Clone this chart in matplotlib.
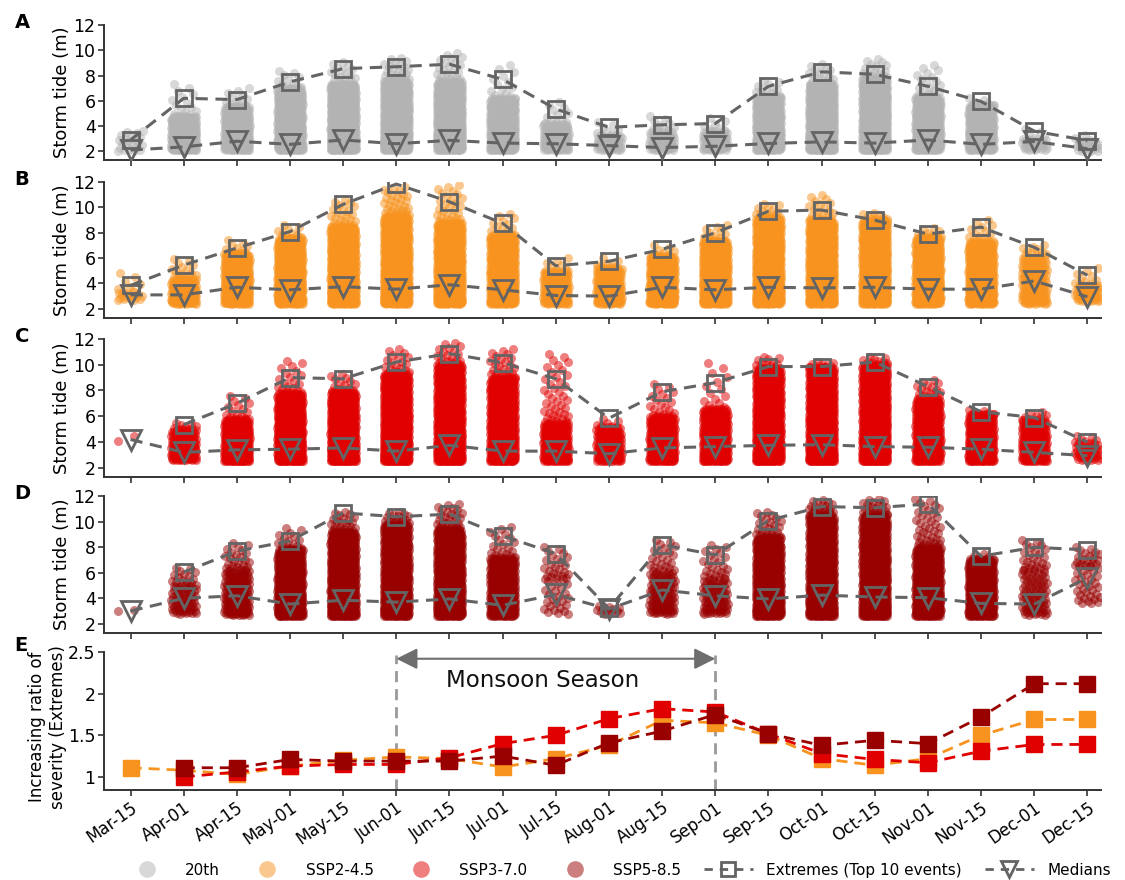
import numpy as np
import matplotlib
matplotlib.use("Agg")
import matplotlib.pyplot as plt
from matplotlib.lines import Line2D

# ---------------------------------------------------------------- data
dates = ["Mar-15", "Apr-01", "Apr-15", "May-01", "May-15", "Jun-01", "Jun-15",
         "Jul-01", "Jul-15", "Aug-01", "Aug-15", "Sep-01", "Sep-15", "Oct-01",
         "Oct-15", "Nov-01", "Nov-15", "Dec-01", "Dec-15"]

# Extremes (mean of top 10 events) and medians of storm tide (m)
ext_20th = [2.9, 6.2, 6.1, 7.5, 8.55, 8.7, 8.9, 7.7, 5.35, 3.9, 4.1, 4.2, 7.15, 8.3, 8.1, 7.15, 5.95, 3.6, 2.85]
med_20th = [2.1, 2.35, 2.8, 2.55, 2.9, 2.6, 2.87, 2.65, 2.6, 2.45, 2.3, 2.4, 2.62, 2.75, 2.65, 2.9, 2.55, 2.78, 2.2]

ext_245 = [3.85, 5.45, 6.8, 8.1, 10.25, 11.85, 10.45, 8.75, 5.4, 5.75, 6.7, 8.0, 9.7, 9.8, 9.0, 7.9, 8.45, 6.85, 4.65]
med_245 = [3.1, 3.1, 3.7, 3.5, 3.75, 3.55, 3.9, 3.5, 3.05, 3.0, 3.7, 3.5, 3.7, 3.65, 3.7, 3.55, 3.55, 4.2, 2.95]

ext_370 = [np.nan, 5.35, 7.0, 9.0, 8.9, 10.2, 10.85, 10.15, 8.9, 5.85, 7.9, 8.6, 9.85, 9.85, 10.2, 8.3, 6.35, 5.9, 4.0]
med_370 = [4.2, 3.2, 3.4, 3.45, 3.55, 3.3, 3.75, 3.3, 3.3, 3.1, 3.55, 3.65, 3.75, 3.8, 3.65, 3.6, 3.45, 3.2, 2.95]

ext_585 = [np.nan, 6.05, 7.7, 8.5, 10.7, 10.4, 10.6, 8.9, 7.5, 3.2, 8.2, 7.4, 10.1, 11.2, 11.1, 11.4, 7.3, 8.0, 7.8]
med_585 = [3.0, 4.0, 4.2, 3.55, 3.85, 3.7, 3.95, 3.45, 4.3, 3.15, 4.65, 4.2, 3.95, 4.25, 4.1, 4.05, 3.6, 3.55, 5.6]

# Event clouds per date: (dense events, lowest, top of dense block, scattered events, highest)
cloud_20th = [(22, 2.0, 3.6, 0, 3.6), (300, 2.1, 4.8, 15, 7.3), (350, 2.1, 5.6, 12, 7.0), (500, 2.1, 7.0, 12, 8.4),
              (700, 2.1, 7.3, 20, 9.1), (700, 2.1, 7.6, 25, 9.4), (700, 2.1, 7.5, 25, 9.8), (450, 2.1, 6.2, 15, 8.8),
              (150, 2.1, 4.2, 12, 5.9), (60, 2.1, 3.3, 8, 4.3), (70, 2.1, 3.6, 10, 4.8), (80, 2.1, 3.6, 8, 4.6),
              (450, 2.1, 6.3, 15, 7.6), (650, 2.1, 7.3, 20, 8.9), (650, 2.1, 7.8, 20, 9.3), (450, 2.1, 6.3, 20, 8.8),
              (350, 2.1, 5.7, 6, 6.2), (30, 2.1, 3.0, 6, 3.8), (20, 2.0, 2.8, 4, 3.3)]
cloud_245 = [(15, 2.7, 3.3, 8, 4.8), (150, 2.4, 4.4, 15, 5.9), (400, 2.4, 6.4, 10, 7.4), (550, 2.4, 7.6, 10, 8.6),
             (700, 2.4, 8.5, 25, 10.6), (750, 2.4, 9.3, 35, 11.6), (700, 2.4, 8.8, 30, 11.8), (550, 2.4, 7.8, 15, 9.5),
             (180, 2.4, 5.0, 8, 6.0), (200, 2.4, 5.3, 6, 6.0), (400, 2.4, 6.2, 8, 7.0), (550, 2.4, 7.4, 12, 8.6),
             (750, 2.4, 9.2, 15, 10.3), (750, 2.4, 9.0, 20, 11.0), (750, 2.4, 9.0, 10, 9.6), (550, 2.4, 7.7, 8, 8.4),
             (500, 2.4, 7.3, 15, 9.0), (150, 2.4, 6.0, 15, 7.0), (45, 2.6, 3.9, 10, 5.2)]
cloud_370 = [(2, 4.1, 4.5, 0, 4.5), (150, 2.6, 5.0, 8, 5.5), (350, 2.5, 5.8, 15, 7.6), (600, 2.5, 7.8, 20, 10.3),
             (600, 2.5, 7.9, 15, 9.3), (800, 2.5, 9.3, 20, 11.2), (800, 2.5, 10.0, 20, 11.7), (600, 2.5, 9.0, 25, 11.2),
             (250, 2.5, 5.5, 40, 10.8), (150, 2.5, 5.2, 6, 5.8), (300, 2.5, 6.0, 20, 8.5), (350, 2.5, 6.6, 15, 10.1),
             (750, 2.5, 9.7, 15, 10.6), (800, 2.5, 9.8, 10, 10.2), (800, 2.5, 10.0, 12, 10.6), (400, 2.5, 7.3, 20, 8.8),
             (350, 2.5, 6.2, 6, 6.5), (220, 2.5, 5.7, 10, 6.3), (40, 2.6, 3.9, 8, 4.5)]
cloud_585 = [(2, 3.0, 3.1, 0, 3.1), (60, 2.8, 4.9, 20, 6.4), (150, 2.7, 6.2, 25, 8.3), (550, 2.6, 7.9, 15, 9.5),
             (750, 2.6, 9.2, 25, 10.8), (750, 2.6, 9.8, 20, 10.8), (750, 2.6, 9.4, 30, 11.4), (400, 2.6, 7.2, 20, 9.6),
             (25, 2.8, 5.5, 25, 8.0), (12, 2.8, 3.4, 0, 3.4), (100, 2.8, 6.0, 25, 8.6), (80, 2.8, 5.5, 25, 8.2),
             (650, 2.6, 8.8, 25, 10.8), (800, 2.6, 10.5, 25, 11.7), (800, 2.6, 10.5, 25, 11.8), (550, 2.6, 8.0, 40, 11.8),
             (500, 2.6, 7.1, 5, 7.5), (80, 2.7, 6.2, 25, 8.6), (30, 3.6, 6.5, 20, 8.0)]

# Increasing ratio of severity (extremes)
ratio_245 = [1.11, 1.08, 1.03, 1.13, 1.2, 1.24, 1.22, 1.12, 1.22, 1.38, 1.68, 1.65, 1.5, 1.22, 1.14, 1.22, 1.5, 1.69, 1.69]
ratio_370 = [np.nan, 1.0, 1.06, 1.13, 1.15, 1.15, 1.23, 1.4, 1.5, 1.7, 1.82, 1.78, 1.52, 1.28, 1.21, 1.17, 1.31, 1.39, 1.39]
ratio_585 = [np.nan, 1.11, 1.11, 1.21, 1.19, 1.19, 1.19, 1.25, 1.14, 1.41, 1.55, 1.75, 1.52, 1.38, 1.44, 1.4, 1.72, 2.12, 2.12]

scenarios = ["20th", "SSP2-4.5", "SSP3-7.0", "SSP5-8.5"]
colors = ["#b3b3b3", "#f7931e", "#e00000", "#990000"]

# ---------------------------------------------------------------- helpers
GOLD = 0.6180339887
SQRT2 = 0.4142135624
HALF_WIDTH = 0.24


def cloud_points(i, spec):
    """Place the events of one date as a jittered column."""
    n_bulk, lo, top, n_tail, hi = spec
    bulk = lo + (top - lo) * np.linspace(0, 1, n_bulk) ** 1.25
    k = np.arange(n_bulk)
    xb = ((k * GOLD + 0.37 * i) % 1.0 - 0.5) * 2 * HALF_WIDTH
    if n_tail:
        tail = top + (hi - top) * np.linspace(0.08, 1, n_tail) ** 1.7
        m = np.arange(n_tail)
        xt = ((m * SQRT2 + 0.11 * i + 0.2) % 1.0 - 0.5) * 2 * HALF_WIDTH
    else:
        tail, xt = np.array([]), np.array([])
    return i + np.concatenate([xb, xt]), np.concatenate([bulk, tail])


def style_axis(ax):
    for s in ("top", "right"):
        ax.spines[s].set_visible(False)
    for s in ("left", "bottom"):
        ax.spines[s].set_linewidth(1.4)
        ax.spines[s].set_color("#333333")
    ax.tick_params(axis="both", direction="out", length=4, width=1.2,
                   color="#333333", labelsize=12.5, pad=2)
    ax.set_xlim(-0.5, 18.25)
    ax.set_xticks(range(len(dates)))


# ---------------------------------------------------------------- figure
fig = plt.figure(figsize=(11.25, 8.8), dpi=100)
L, W = 0.0924, 0.886
panel_boxes = [(0.818, 0.1535), (0.639, 0.154), (0.458, 0.157), (0.281, 0.155)]

x = np.arange(len(dates))
ext_all = [ext_20th, ext_245, ext_370, ext_585]
med_all = [med_20th, med_245, med_370, med_585]
clouds = [cloud_20th, cloud_245, cloud_370, cloud_585]
letters = ["A", "B", "C", "D"]
line_gray = "#646464"

for p in range(4):
    b, h = panel_boxes[p]
    ax = fig.add_axes([L, b, W, h])
    xs, ys = [], []
    for i, spec in enumerate(clouds[p]):
        cx, cy = cloud_points(i, spec)
        xs.append(cx)
        ys.append(cy)
    ax.scatter(np.concatenate(xs), np.concatenate(ys), s=42, color=colors[p],
               alpha=0.5, linewidths=0, zorder=1, rasterized=True)
    ax.plot(x, ext_all[p], ls="--", lw=2.2, color=line_gray, marker="s", ms=11,
            mfc="none", mec=line_gray, mew=2.0, zorder=3, dashes=(4, 2.5))
    ax.plot(x, med_all[p], ls="--", lw=2.2, color=line_gray, marker="v", ms=14,
            mfc="none", mec=line_gray, mew=2.0, zorder=3, dashes=(4, 2.5))
    style_axis(ax)
    ax.set_ylim(1.3, 12)
    ax.set_yticks([2, 4, 6, 8, 10, 12])
    ax.set_xticklabels([])
    ax.set_ylabel("Storm tide (m)", fontsize=13, labelpad=2)
    fig.text(0.013, b + h + 0.003, letters[p], fontsize=14, fontweight="bold",
             va="center", ha="left")

# panel E
axE = fig.add_axes([L, 0.102, W, 0.157])
for vals, c in zip([ratio_245, ratio_370, ratio_585], colors[1:]):
    axE.plot(x, vals, ls="--", lw=2.0, color=c, marker="s", ms=11, mfc=c,
             mec=c, zorder=3, dashes=(4, 2.5))
style_axis(axE)
axE.set_ylim(0.84, 2.5)
axE.set_yticks([1, 1.5, 2, 2.5])
axE.set_yticklabels(["1", "1.5", "2", "2.5"])
axE.set_xticklabels(dates, rotation=35, ha="right", rotation_mode="anchor",
                    fontsize=12)
axE.set_ylabel("Increasing ratio of\nseverity (Extremes)", fontsize=12,
               labelpad=1, y=0.46)
fig.text(0.013, 0.266, "E", fontsize=14, fontweight="bold", va="center",
         ha="left")

# monsoon season marker
for xv in (5, 11):
    axE.plot([xv, xv], [0.84, 2.47], ls="--", lw=2.0, color="#999999",
             zorder=2, dashes=(4, 2.5))
axE.annotate("", xy=(5.0, 2.42), xytext=(11.0, 2.42),
             arrowprops=dict(arrowstyle="<|-|>", color="#6e6e6e", lw=1.5,
                             mutation_scale=32, shrinkA=0, shrinkB=0))
axE.text(7.75, 2.16, "Monsoon Season", fontsize=16.5, ha="center",
         va="center", color="#111111")

# legend
handles = [Line2D([], [], ls="none", marker="o", ms=12, mec="none",
                  mfc=c, alpha=0.5) for c in colors]
handles.append(Line2D([], [], ls="--", lw=2.0, color=line_gray, marker="s",
                      ms=10, mfc="none", mec=line_gray, mew=2.0,
                      dashes=(3, 2.5)))
handles.append(Line2D([], [], ls="--", lw=2.0, color=line_gray, marker="v",
                      ms=12, mfc="none", mec=line_gray, mew=2.0,
                      dashes=(3, 2.5)))
labels = scenarios + ["Extremes (Top 10 events)", "Medians"]
fig.legend(handles, labels, loc="lower right", bbox_to_anchor=(1.0, -0.013),
           ncol=6, frameon=False, fontsize=11, handlelength=3.2,
           columnspacing=1.5, handletextpad=0.9)

fig.savefig("out.png", dpi=100)
